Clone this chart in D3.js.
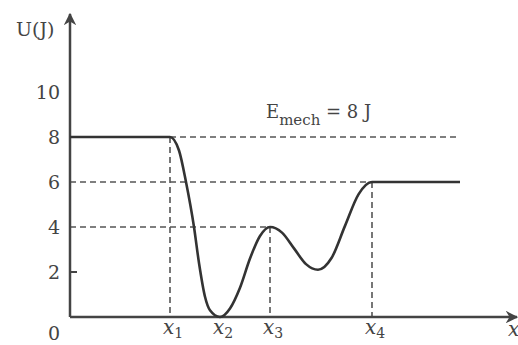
<!DOCTYPE html>
<html>
<head>
<meta charset="utf-8">
<script src="https://cdn.jsdelivr.net/npm/d3@7"></script>
<style>
  body { margin: 0; background: #fff; }
  text { font-family: "DejaVu Serif", "Liberation Serif", serif; fill: #444; }
</style>
</head>
<body>
<script>
// Potential energy curve U(x), x in arbitrary units
var curveX = [0, 10, 10.9, 11.6, 12.4, 12.9, 13.5, 14, 15, 16, 17, 18, 19, 20,
              21.2, 22.4, 23.6, 24.8, 26.15, 27.5, 28.85, 30.2, 39];
var curveU = [8, 8, 7.4, 6, 4, 2.4, 0.9, 0.3, 0, 0.38, 1.3, 2.6, 3.6, 4,
              3.75, 3.05, 2.35, 2.1, 2.62, 4.05, 5.45, 6, 6];

var yTicks = [0, 2, 4, 6, 8, 10];
var xMarks = [10, 15, 20, 30.2];
var xMarkLabels = ["1", "2", "3", "4"];

// guide lines: level, and where they stop
var hLevels = [8, 6, 4];
var hEnds = [39, 30.2, 20];
var vAt = [10, 20, 30.2];
var vTop = [8, 4, 6];

var w = 518;
var h = 345;

var x = d3.scaleLinear().domain([0, 44.7]).range([70, 517]);
var y = d3.scaleLinear().domain([0, 10]).range([317, 92]);

var svg = d3.select("body")
  .append("svg")
  .attr("width", w)
  .attr("height", h);

svg.append("defs").append("marker")
  .attr("id", "arrow")
  .attr("viewBox", "0 0 10 10")
  .attr("refX", 9).attr("refY", 5)
  .attr("markerWidth", 5).attr("markerHeight", 5)
  .attr("markerUnits", "strokeWidth")
  .attr("orient", "auto")
  .append("path")
  .attr("d", "M0,0 L10,5 L0,10 L3,5 Z")
  .attr("fill", "#444");

// dashed guides
svg.selectAll(".hguide")
  .data(hLevels)
  .enter().append("line")
  .attr("x1", x(0)).attr("x2", function(d, i) { return x(hEnds[i]); })
  .attr("y1", function(d) { return y(d); }).attr("y2", function(d) { return y(d); })
  .attr("stroke", "#555").attr("stroke-width", 1.6)
  .attr("stroke-dasharray", "6,4");

svg.selectAll(".vguide")
  .data(vAt)
  .enter().append("line")
  .attr("x1", function(d) { return x(d); }).attr("x2", function(d) { return x(d); })
  .attr("y1", function(d, i) { return y(vTop[i]); }).attr("y2", y(0))
  .attr("stroke", "#555").attr("stroke-width", 1.6)
  .attr("stroke-dasharray", "6,4");

// axes
svg.append("line")
  .attr("x1", x(0)).attr("y1", y(0))
  .attr("x2", x(0)).attr("y2", 14)
  .attr("stroke", "#444").attr("stroke-width", 2.5)
  .attr("marker-end", "url(#arrow)");

svg.append("line")
  .attr("x1", x(0)).attr("y1", y(0))
  .attr("x2", 517).attr("y2", y(0))
  .attr("stroke", "#444").attr("stroke-width", 2.5)
  .attr("marker-end", "url(#arrow)");

// small tick at 2
svg.append("line")
  .attr("x1", x(0)).attr("x2", x(0) + 7)
  .attr("y1", y(2)).attr("y2", y(2))
  .attr("stroke", "#444").attr("stroke-width", 2);

// y tick labels
svg.selectAll(".ylab")
  .data(yTicks)
  .enter().append("text")
  .attr("x", 60)
  .attr("y", function(d) { return d === 0 ? 340 : y(d) + 7; })
  .attr("text-anchor", "end")
  .attr("font-size", 19)
  .text(function(d) { return d; });

// x labels
var xl = svg.selectAll(".xlab")
  .data(xMarks)
  .enter().append("text")
  .attr("x", function(d) { return x(d) - 7; })
  .attr("y", 334)
  .attr("font-size", 20)
  .attr("font-style", "italic");
xl.append("tspan").text("x");
xl.append("tspan")
  .attr("dy", 4)
  .attr("font-size", 14)
  .attr("font-style", "normal")
  .text(function(d, i) { return xMarkLabels[i]; });

svg.append("text")
  .attr("x", 508).attr("y", 336)
  .attr("font-size", 20).attr("font-style", "italic")
  .text("x");

// axis title
svg.append("text")
  .attr("x", 16).attr("y", 36)
  .attr("font-size", 19)
  .text("U(J)");

// energy label
var el = svg.append("text")
  .attr("x", 266).attr("y", 118)
  .attr("font-size", 18);
el.append("tspan").text("E");
el.append("tspan").attr("dy", 7).attr("font-size", 15).text("mech");
el.append("tspan").attr("dy", -7).text(" = 8 J");

// potential curve
var pts = curveX.map(function(d, i) { return [d, curveU[i]]; });
var line = d3.line()
  .x(function(d) { return x(d[0]); })
  .y(function(d) { return y(d[1]); })
  .curve(d3.curveMonotoneX);

svg.append("path")
  .datum(pts)
  .attr("d", line)
  .attr("fill", "none")
  .attr("stroke", "#333")
  .attr("stroke-width", 2.6);
</script>
</body>
</html>
